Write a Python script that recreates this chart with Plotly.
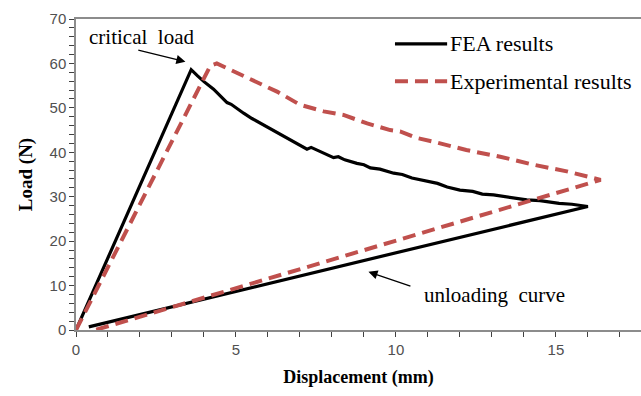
import plotly.graph_objects as go

# Load-displacement curves (loading branch, softening branch, unloading branch)
fea_disp = [0.0, 3.6, 3.8, 4.0, 4.3, 4.55, 4.72, 4.85, 5.0, 5.24, 5.5, 5.8, 6.1,
            6.4, 6.7, 7.0, 7.22, 7.35, 7.5, 7.8, 8.05, 8.2, 8.4, 8.78, 9.0, 9.2,
            9.5, 9.93, 10.2, 10.5, 10.97, 11.3, 11.6, 12.0, 12.4, 12.7, 13.05,
            13.5, 14.09, 14.5, 15.1, 15.5, 16.0, 0.4]
fea_load = [0.0, 58.6, 57.2, 55.9, 54.2, 52.4, 51.2, 50.8, 50.0, 48.8, 47.6, 46.4,
            45.2, 44.0, 42.7, 41.6, 40.7, 41.1, 40.6, 39.6, 38.8, 39.0, 38.3, 37.5,
            37.2, 36.5, 36.2, 35.3, 35.0, 34.2, 33.4, 33.0, 32.2, 31.5, 31.2, 30.6,
            30.4, 29.9, 29.3, 29.1, 28.5, 28.3, 27.8, 0.7]

exp_disp = [0.0, 4.2, 4.4, 5.0, 5.66, 6.3, 7.0, 7.4, 7.74, 8.36, 8.7, 9.1, 9.82,
            10.13, 10.66, 11.17, 12.2, 13.26, 14.3, 15.34, 16.4, 0.6]
exp_load = [0.0, 59.5, 60.0, 58.0, 55.9, 53.6, 50.7, 49.8, 49.2, 48.4, 47.5, 46.5,
            45.0, 44.7, 43.2, 42.4, 40.5, 39.0, 37.2, 35.7, 33.8, 0.0]

series_names = ["FEA results", "Experimental results"]
x_ticks = [0, 5, 10, 15]
y_ticks = [0, 10, 20, 30, 40, 50, 60, 70]

BLACK = "#000000"
RED = "#C0504D"
SERIF = "Liberation Serif, Times New Roman, serif"
SANS = "Liberation Sans, Arial, sans-serif"

fig = go.Figure()
fig.add_trace(go.Scatter(x=fea_disp, y=fea_load, mode="lines", name=series_names[0],
                         line=dict(color=BLACK, width=3.2), showlegend=False))
fig.add_trace(go.Scatter(x=exp_disp, y=exp_load, mode="lines", name=series_names[1],
                         line=dict(color=RED, width=4, dash="13px,7px"),
                         showlegend=False))

# Legend drawn as line samples with labels beside them
leg_x0, leg_x1 = 9.97, 11.6
leg_y = [64.4, 56.0]
leg_styles = [dict(color=BLACK, width=3.2), dict(color=RED, width=4, dash="13px,7px")]
for name, yy, st in zip(series_names, leg_y, leg_styles):
    fig.add_shape(type="line", xref="x", yref="y", x0=leg_x0, x1=leg_x1, y0=yy, y1=yy,
                  line=st)
    fig.add_annotation(x=leg_x1 + 0.03, y=yy, xref="x", yref="y", text=name,
                       showarrow=False, xanchor="left", yanchor="middle",
                       font=dict(family=SERIF, size=22, color="#000000"))

# Callouts
fig.add_annotation(x=2.06, y=66.0, xref="x", yref="y", text="critical&nbsp;&nbsp;load",
                   showarrow=False, font=dict(family=SERIF, size=21, color="#000000"))
fig.add_annotation(x=3.42, y=60.4, ax=1.9, ay=63.1, xref="x", yref="y",
                   axref="x", ayref="y", text="", showarrow=True, arrowhead=2,
                   arrowsize=1.4, arrowwidth=1.3, arrowcolor="#000000")
fig.add_annotation(x=13.07, y=7.9, xref="x", yref="y", text="unloading&nbsp;&nbsp;curve",
                   showarrow=False, font=dict(family=SERIF, size=21, color="#000000"))
fig.add_annotation(x=9.14, y=13.1, ax=10.5, ay=9.75, xref="x", yref="y",
                   axref="x", ayref="y", text="", showarrow=True, arrowhead=2,
                   arrowsize=1.4, arrowwidth=1.3, arrowcolor="#000000")

axis_line = "#8C8C8C"
fig.update_xaxes(range=[0, 17.66], tickvals=x_ticks, ticks="outside", ticklen=5,
                 tickwidth=1.2, tickcolor="#404040", showline=True, linecolor=axis_line,
                 linewidth=1.5, mirror=True, showgrid=False, zeroline=False,
                 minor=dict(dtick=1, tick0=0, ticks="outside", ticklen=5,
                            tickwidth=1.2, tickcolor="#404040", showgrid=False),
                 tickfont=dict(family=SANS, size=15, color="#505050"),
                 title=dict(text="<b>Displacement (mm)</b>", standoff=14,
                            font=dict(family=SERIF, size=18, color="#000000")))
fig.update_yaxes(range=[0, 70], tickvals=y_ticks, ticks="outside", ticklen=5,
                 tickwidth=1.2, tickcolor="#404040", showline=True, linecolor=axis_line,
                 linewidth=1.5, showgrid=False, zeroline=False,
                 minor=dict(dtick=2, tick0=0, ticks="outside", ticklen=5,
                            tickwidth=1.2, tickcolor="#404040", showgrid=False),
                 tickfont=dict(family=SANS, size=15, color="#505050"),
                 title=dict(text="<b>Load (N)</b>", standoff=12,
                            font=dict(family=SERIF, size=19, color="#000000")))

fig.update_layout(width=641, height=396, margin=dict(l=76, r=0, t=19, b=66),
                  paper_bgcolor="white", plot_bgcolor="white")

fig.write_html("out.html")
